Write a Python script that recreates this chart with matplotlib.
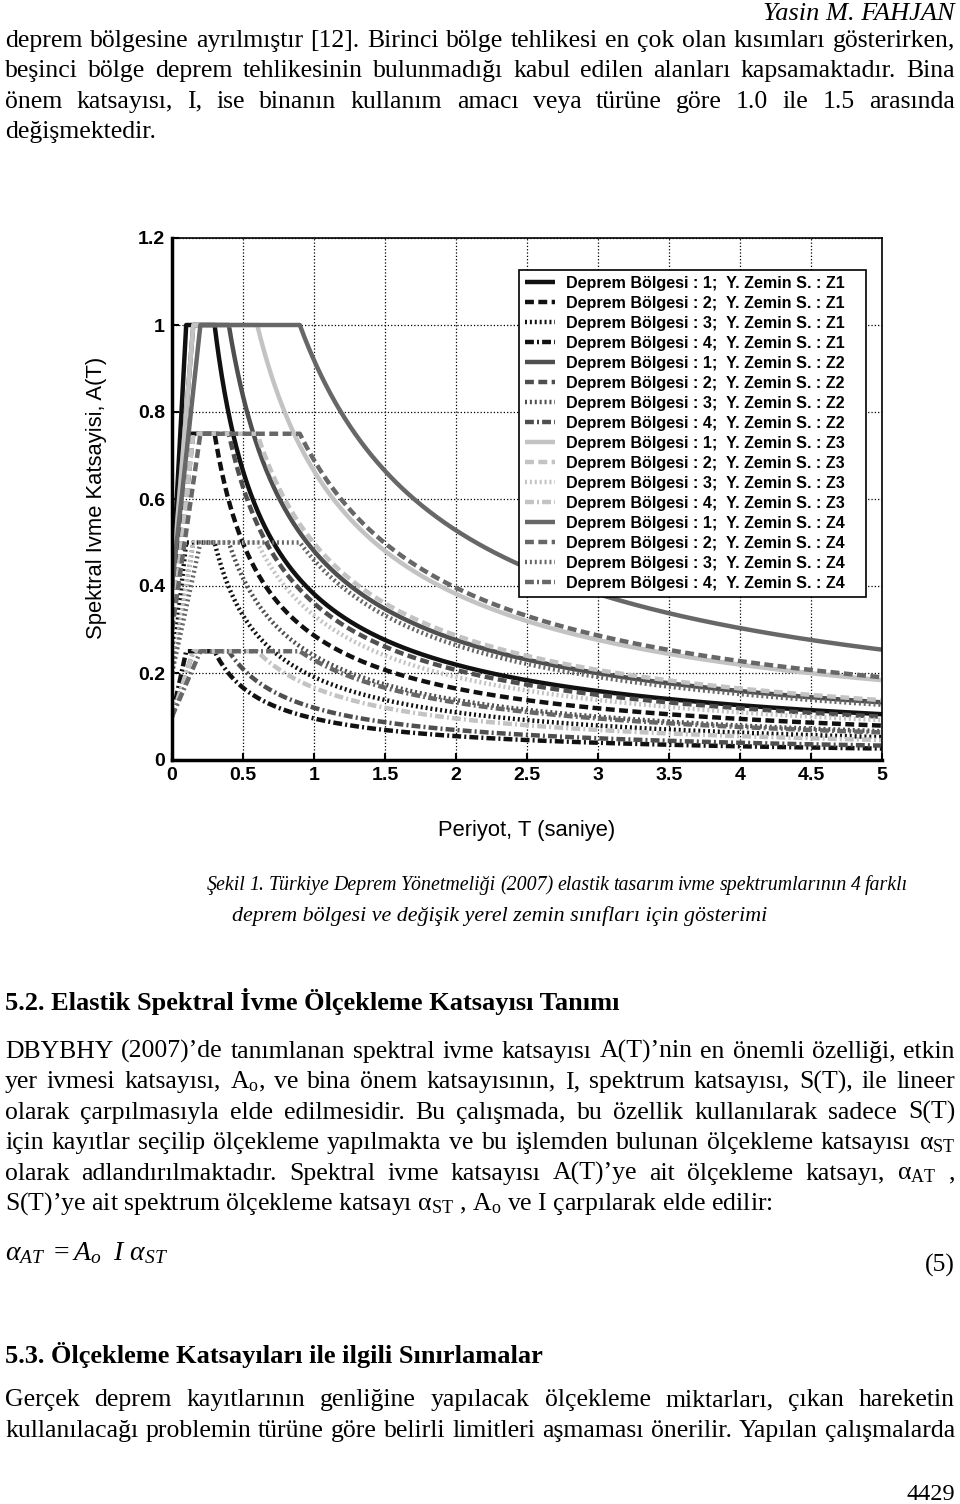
import numpy as np
import matplotlib
matplotlib.use('Agg')
import matplotlib.pyplot as plt
from matplotlib.patches import Rectangle

W, H = 960, 1504

# TDY 2007 design spectrum parameters
zones = [1, 2, 3, 4]
A0 = [0.4, 0.3, 0.2, 0.1]          # effective ground acceleration per zone
soils = ['Z1', 'Z2', 'Z3', 'Z4']
TA = [0.10, 0.15, 0.15, 0.20]      # corner periods (s)
TB = [0.30, 0.40, 0.60, 0.90]

soil_colors = ['#111111', '#4f4f4f', '#c3c3c3', '#676767']
zone_dashes = [(), (2.0, 1.0), (0.45, 0.65), (2.0, 0.7, 0.45, 0.7)]

xticks = [0, 0.5, 1, 1.5, 2, 2.5, 3, 3.5, 4, 4.5, 5]
xticklabels = ['0', '0.5', '1', '1.5', '2', '2.5', '3', '3.5', '4', '4.5', '5']
yticks = [0, 0.2, 0.4, 0.6, 0.8, 1.0, 1.2]
yticklabels = ['0', '0.2', '0.4', '0.6', '0.8', '1', '1.2']

header = 'Yasin M. FAHJAN'
para1 = [
    'deprem bölgesine ayrılmıştır [12]. Birinci bölge tehlikesi en çok olan kısımları gösterirken,',
    'beşinci bölge deprem tehlikesinin bulunmadığı kabul edilen alanları kapsamaktadır. Bina',
    'önem katsayısı, I, ise binanın kullanım amacı veya türüne göre 1.0 ile 1.5 arasında',
    'değişmektedir.',
]
caption = [
    'Şekil 1. Türkiye Deprem Yönetmeliği (2007) elastik tasarım ivme spektrumlarının 4 farklı',
    'deprem bölgesi ve değişik yerel zemin sınıfları için gösterimi',
]
heading2 = '5.2. Elastik Spektral İvme Ölçekleme Katsayısı Tanımı'
para2 = [
    'DBYBHY (2007)’de tanımlanan spektral ivme katsayısı A(T)’nin en önemli özelliği, etkin',
    r'yer ivmesi katsayısı, A$_\mathrm{o}$, ve bina önem katsayısının, I, spektrum katsayısı, S(T), ile lineer',
    'olarak çarpılmasıyla elde edilmesidir. Bu çalışmada, bu özellik kullanılarak sadece S(T)',
    r'için kayıtlar seçilip ölçekleme yapılmakta ve bu işlemden bulunan ölçekleme katsayısı α$_\mathrm{ST}$',
    r'olarak adlandırılmaktadır. Spektral ivme katsayısı A(T)’ye ait ölçekleme katsayı, α$_\mathrm{AT}$ ,',
    r'S(T)’ye ait spektrum ölçekleme katsayı α$_\mathrm{ST}$ , A$_\mathrm{o}$ ve I çarpılarak elde edilir:',
]
equation = r'$\alpha_{AT}\ = A_o\ \ I\ \alpha_{ST}$'
heading3 = '5.3. Ölçekleme Katsayıları ile ilgili Sınırlamalar'
para3 = [
    'Gerçek deprem kayıtlarının genliğine yapılacak ölçekleme miktarları, çıkan hareketin',
    'kullanılacağı problemin türüne göre belirli limitleri aşmaması önerilir. Yapılan çalışmalarda',
]
page_no = '4429'

plt.rcParams['mathtext.fontset'] = 'custom'
plt.rcParams['mathtext.rm'] = 'Liberation Serif'
plt.rcParams['mathtext.it'] = 'Liberation Serif:italic'
plt.rcParams['mathtext.bf'] = 'Liberation Serif:bold'

SERIF = 'Liberation Serif'
SANS = 'Liberation Sans'
BODY = 18.5


def spectrum(T, ta, tb):
    return np.where(T < ta, 1 + 1.5 * T / ta,
                    np.where(T <= tb, 2.5, 2.5 * (tb / np.maximum(T, 1e-9)) ** 0.8))


def fy(px):
    return 1 - px / H


def put_line(fig, text, y, x=5, justify=False, x1=955, **kw):
    kw.setdefault('family', SERIF)
    kw.setdefault('fontsize', BODY)
    if not justify:
        return fig.text(x / W, fy(y), text, va='baseline', ha='left', **kw)
    words = text.split(' ')
    texts = [fig.text(0, fy(y), w, va='baseline', ha='left', **kw) for w in words]
    r = fig.canvas.get_renderer()
    widths = [t.get_window_extent(r).width for t in texts]
    gap = (x1 - x - sum(widths)) / (len(words) - 1)
    pos = x
    for t, w in zip(texts, widths):
        t.set_x(pos / W)
        pos += w + gap


fig = plt.figure(figsize=(W / 100, H / 100), dpi=100)

# chart
ax = fig.add_axes([172 / W, fy(760), 710 / W, 522 / H])
T = np.union1d(np.linspace(0, 5, 1001), TA + TB)
for s, soil in enumerate(soils):
    for z, zone in enumerate(zones):
        A = A0[z] * spectrum(T, TA[s], TB[s])
        ax.plot(T, A, color=soil_colors[s], lw=3.2, dashes=zone_dashes[z],
                solid_capstyle='butt', dash_capstyle='butt',
                label=f'Deprem Bölgesi : {zone};  Y. Zemin S. : {soil}')
ax.set_xlim(0, 5)
ax.set_ylim(0, 1.2)
ax.set_xticks(xticks)
ax.set_xticklabels(xticklabels)
ax.set_yticks(yticks)
ax.set_yticklabels(yticklabels)
ax.grid(True, ls=':', color='k', lw=0.9)
ax.set_axisbelow(True)
for side in ['left', 'bottom']:
    ax.spines[side].set_linewidth(2.5)
for side in ['top', 'right']:
    ax.spines[side].set_linewidth(1.2)
ax.tick_params(direction='in', length=5, width=1.5, pad=5)
for lab in ax.get_xticklabels() + ax.get_yticklabels():
    lab.set_family(SANS)
    lab.set_fontweight('bold')
    lab.set_fontsize(14)

# legend box (frame drawn separately to get the wider right margin)
bx0, bx1, by0, by1 = 519, 866, 270, 597
ax.add_patch(Rectangle(((bx0 - 172) / 710, (760 - by1) / 522), (bx1 - bx0) / 710, (by1 - by0) / 522,
                       transform=ax.transAxes, facecolor='white', edgecolor='k', lw=1.2, zorder=4.5))
leg = ax.legend(loc='upper left', bbox_to_anchor=((bx0 - 172) / 710, (760 - by0) / 522),
                prop={'family': SANS, 'weight': 'bold', 'size': 11.6},
                frameon=False, borderaxespad=0, borderpad=0.35, handlelength=1.9,
                handletextpad=0.68, labelspacing=0.31)

fig.text(97 / W, fy(498), 'Spektral Ivme Katsayisi, A(T)', rotation=90, ha='center', va='center',
         family=SANS, fontsize=15.8)
fig.text(527 / W, fy(830), 'Periyot, T (saniye)', ha='center', va='center', family=SANS, fontsize=15.8)

# page text
fig.text(955 / W, fy(20), header, ha='right', va='baseline', family=SERIF, style='italic', fontsize=19)
for i, line in enumerate(para1):
    put_line(fig, line, 47 + 30.3 * i, justify=i < 3)

put_line(fig, caption[0], 890, x=207, justify=True, x1=908, style='italic', fontsize=14.3)
put_line(fig, caption[1], 921, x=232, style='italic', fontsize=15.8)

put_line(fig, heading2, 1010, weight='bold', fontsize=19)
for i, line in enumerate(para2):
    put_line(fig, line, 1058 + 30.4 * i, justify=i < 5)

fig.text(5 / W, fy(1260), equation, ha='left', va='baseline', fontsize=20)
fig.text(955 / W, fy(1272), '(5)', ha='right', va='baseline', family=SERIF, fontsize=BODY)

put_line(fig, heading3, 1363, weight='bold', fontsize=19)
for i, line in enumerate(para3):
    put_line(fig, line, 1406 + 31 * i, justify=True)

fig.text(955 / W, fy(1500), page_no, ha='right', va='baseline', family=SERIF, fontsize=17.5)

fig.savefig('out.png', dpi=100)
